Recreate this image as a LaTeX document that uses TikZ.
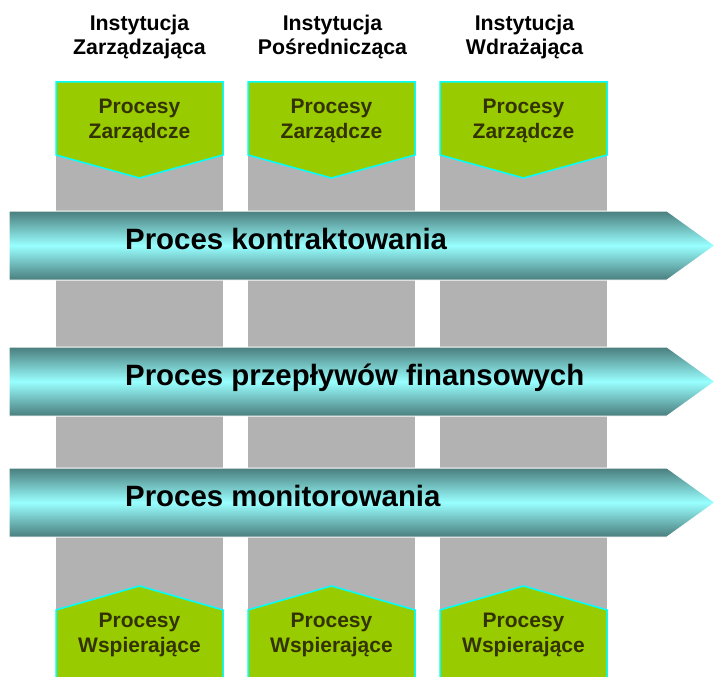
\documentclass[tikz,border=0pt]{standalone}
\usepackage{fontspec}
\setmainfont{Liberation Sans}
\usetikzlibrary{calc}
\definecolor{zielony}{HTML}{99CC00}
\definecolor{oliwka}{HTML}{333300}
\definecolor{cyjan}{HTML}{00FFFF}
\definecolor{szary}{HTML}{B2B2B2}
\definecolor{morski}{HTML}{4A7D7D}
\definecolor{blekit}{HTML}{99FFFF}

\begin{document}
\begin{tikzpicture}[x=1pt,y=-1pt,
        proces/.style={fill=zielony,draw=cyjan,line width=1.5pt},
        strzalka/.style={draw=white,line width=1pt,top color=morski,bottom color=morski,middle color=blekit},
        naglowek/.style={align=center,font=\fontsize{21.3}{24.3}\selectfont\bfseries,text=black},
        etykieta/.style={align=center,font=\fontsize{21}{24.3}\selectfont\bfseries,text=oliwka},
        tytul/.style={anchor=base west,inner sep=0pt,font=\fontsize{29.4}{34}\selectfont\bfseries,text=black}]
                \useasboundingbox (0,0) rectangle (715,677);
                % szare kolumny
                \foreach \x in {56,248,440}
                    \fill[szary] (\x,100) rectangle ++(167,520);
                % procesy zarzadcze i wspierajace
                \foreach \x/\n in {56/1,248/2,440/3} {
                    \draw[proces] (\x,82) -- ++(167,0) -- ++(0,73) -- ++(-83.5,23) -- ++(-83.5,-23) -- cycle;
                    \draw[proces] (\x,690) -- (\x,610) -- ++(83.5,-24) -- ++(83.5,24) -- ++(0,80);
                    \node[etykieta] (pz\n) at (\x+83.5,121) {Procesy\\Zarządcze};
                    \node[etykieta] (pw\n) at (\x+83.5,635) {Procesy\\Wspierające};
                }
                % instytucje
                \node[naglowek] (iz) at (139.5,37) {Instytucja\\Zarządzająca};
                \node[naglowek] (ip) at (332.5,37) {Instytucja\\Pośrednicząca};
                \node[naglowek] (iw) at (524.5,37) {Instytucja\\Wdrażająca};
                % strzalki procesow
                \foreach \g/\nazwa/\tekst in {211/kontr/Proces kontraktowania,347/fin/Proces przepływów finansowych,468/mon/Proces monitorowania} {
                    \draw[strzalka] (9,\g) -- (667,\g) -- (715,\g+34.5) -- (667,\g+69) -- (9,\g+69) -- cycle;
                    \node[tytul] (\nazwa) at (125,\g+38) {\tekst};
                }
            \end{tikzpicture}
\end{document}
